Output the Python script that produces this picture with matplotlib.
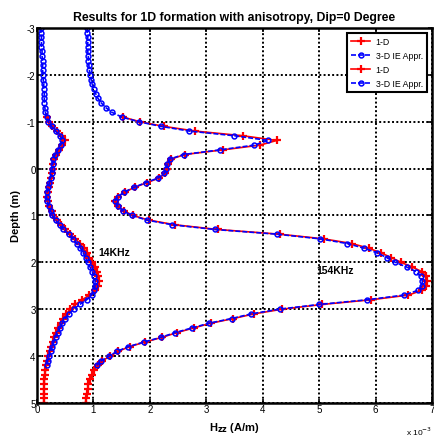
import numpy as np
import matplotlib
matplotlib.use("Agg")
import matplotlib.pyplot as plt

plt.rcParams['font.family'] = ['Liberation Sans', 'DejaVu Sans']
plt.rcParams['axes.unicode_minus'] = False

# depth samples (m)
depth_1d = np.round(np.arange(-1.1, 5.001, 0.1), 2)
depth_3d = np.round(np.arange(-3.0, 4.201, 0.1), 2)

# Hzz, units of 1e-3 A/m
hzz_14k_3d = [0.07, 0.07, 0.08, 0.08, 0.08, 0.09, 0.09, 0.10, 0.10, 0.10,
              0.11, 0.11, 0.12, 0.12, 0.13, 0.13, 0.13, 0.14, 0.15, 0.17,
              0.20, 0.26, 0.33, 0.41, 0.45, 0.42, 0.37, 0.32, 0.29, 0.28,
              0.27, 0.26, 0.24, 0.22, 0.20, 0.18, 0.17, 0.18, 0.21, 0.24,
              0.27, 0.33, 0.40, 0.47, 0.56, 0.64, 0.71, 0.77, 0.82, 0.86,
              0.90, 0.94, 0.98, 1.01, 1.03, 1.03, 1.01, 0.97, 0.88, 0.76,
              0.65, 0.57, 0.50, 0.45, 0.41, 0.37, 0.33, 0.30, 0.27, 0.24,
              0.22, 0.19, 0.17]
hzz_154k_3d = [0.89, 0.89, 0.90, 0.90, 0.90, 0.90, 0.91, 0.91, 0.92, 0.93,
               0.94, 0.96, 0.98, 1.01, 1.04, 1.08, 1.14, 1.22, 1.33, 1.50,
               1.80, 2.20, 2.70, 3.50, 4.10, 3.85, 3.25, 2.60, 2.35, 2.31,
               2.29, 2.26, 2.15, 1.93, 1.72, 1.55, 1.43, 1.38, 1.43, 1.52,
               1.68, 1.95, 2.40, 3.15, 4.25, 5.02, 5.50, 5.80, 6.03, 6.20,
               6.35, 6.55, 6.72, 6.80, 6.83, 6.82, 6.75, 6.50, 5.85, 5.00,
               4.30, 3.80, 3.45, 3.05, 2.75, 2.45, 2.20, 1.90, 1.62, 1.42,
               1.28, 1.14, 1.06]
hzz_14k_1d = [0.18, 0.21, 0.27, 0.35, 0.44, 0.49, 0.45, 0.39, 0.33, 0.30, 0.29,
              0.28, 0.27, 0.25, 0.23, 0.21, 0.19, 0.18, 0.19, 0.22, 0.26,
              0.29, 0.35, 0.42, 0.50, 0.59, 0.68, 0.76, 0.83, 0.88, 0.93,
              0.98, 1.03, 1.07, 1.09, 1.10, 1.08, 1.03, 0.93, 0.80, 0.68,
              0.59, 0.52, 0.46, 0.42, 0.38, 0.34, 0.31, 0.28, 0.25, 0.23,
              0.20, 0.18, 0.16, 0.15, 0.14, 0.13, 0.13, 0.12, 0.12, 0.12,
              0.12]
hzz_154k_1d = [1.52, 1.82, 2.25, 2.80, 3.65, 4.25, 3.95, 3.30, 2.62, 2.37, 2.33,
               2.31, 2.27, 2.17, 1.95, 1.73, 1.56, 1.44, 1.39, 1.44, 1.54,
               1.70, 1.98, 2.45, 3.20, 4.30, 5.08, 5.58, 5.88, 6.10, 6.28,
               6.45, 6.65, 6.82, 6.90, 6.92, 6.90, 6.82, 6.58, 5.92, 5.05,
               4.35, 3.85, 3.48, 3.08, 2.78, 2.48, 2.22, 1.92, 1.64, 1.44,
               1.30, 1.16, 1.08, 1.01, 0.97, 0.94, 0.91, 0.90, 0.88, 0.87,
               0.86]

fig = plt.figure(figsize=(4.35, 4.39), dpi=100)
ax = fig.add_axes([0.085, 0.080, 0.908, 0.854])

red = dict(color='red', ls='-', lw=1.2, marker='+', ms=5.5, mew=1.6)
blue = dict(color='blue', ls='--', lw=1.2, marker='o', ms=3.5, mew=1.1,
            mfc='none', dashes=(3, 1.2))

ax.plot(hzz_14k_1d, depth_1d, label='1-D', **red)
ax.plot(hzz_14k_3d, depth_3d, label='3-D IE Appr.', **blue)
ax.plot(hzz_154k_1d, depth_1d, label='1-D', **red)
ax.plot(hzz_154k_3d, depth_3d, label='3-D IE Appr.', **blue)

ax.set_xlim(0, 7)
ax.set_ylim(5, -3)
ax.set_xticks(range(0, 8))
ax.set_yticks(range(-3, 6))
ax.grid(True, color='black', ls=(0, (1, 1.2)), lw=1.4)
for s in ax.spines.values():
    s.set_linewidth(1.8)
ax.tick_params(direction='in', length=3, width=1.2, labelsize=7,
               top=True, right=True, pad=1)

ax.set_title('Results for 1D formation with anisotropy, Dip=0 Degree',
             fontsize=8.8, fontweight='bold', pad=6)
ax.set_ylabel('Depth (m)', fontsize=8, fontweight='bold', labelpad=4)
ax.set_xlabel(r'H$_{\mathbf{zz}}$ (A/m)', fontsize=8, fontweight='bold',
              labelpad=4)
ax.text(1.0, -0.058, r'x 10$^{-3}$', transform=ax.transAxes, fontsize=6,
        ha='right', va='top')

ax.text(1.08, 1.78, '14KHz', fontsize=7.5, fontweight='bold', va='center')
ax.text(4.96, 2.16, '154KHz', fontsize=7.5, fontweight='bold', va='center')

leg = ax.legend(loc='upper right', fontsize=6.3, frameon=True, fancybox=False,
                borderaxespad=0.6, handlelength=2.2, labelspacing=0.55,
                borderpad=0.45, handletextpad=0.6)
leg.get_frame().set_edgecolor('black')
leg.get_frame().set_linewidth(1.5)
leg.get_frame().set_alpha(1)

fig.savefig('out.png', dpi=100)
